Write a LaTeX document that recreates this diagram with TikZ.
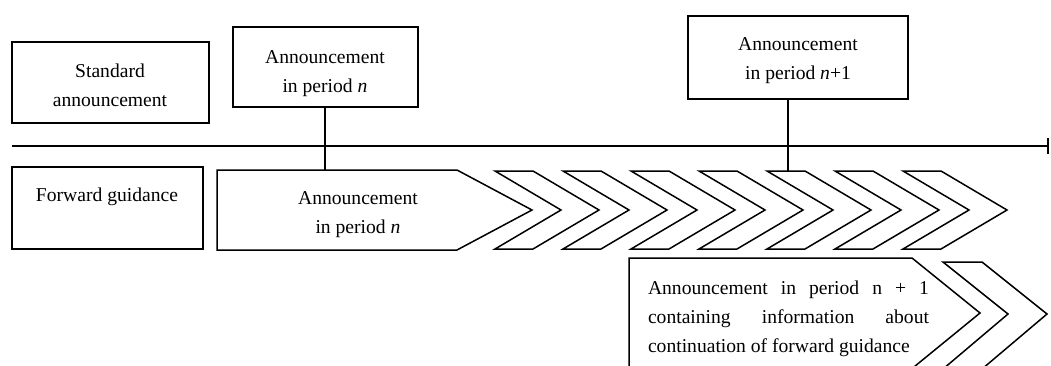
\documentclass[tikz,border=0pt]{standalone}
\usepackage{fontspec}
\setmainfont{Liberation Serif}
\usetikzlibrary{arrows.meta}
\newcommand\figfont{\fontsize{19.6pt}{29pt}\selectfont}
\begin{document}
\begin{tikzpicture}[x=1pt,y=-1pt,line width=1.5pt,line join=miter,
  box/.style={draw,rectangle,inner sep=0pt},
  lbl/.style={align=center,font=\figfont,inner sep=0pt},
  chev/.style={draw}]
\useasboundingbox (0,0) rectangle (1051,365);
\clip (0,0) rectangle (1051,365);
% timeline
\coordinate (tl0) at (12,146);
\coordinate (tl1) at (1049,146);
\draw[-{Bar[width=16pt,line width=2pt]}] (tl0) -- (tl1);
% boxes
\node[box,minimum width=197pt,minimum height=81pt] (std) at (110.5,82.5) {};
\node[lbl] (stdt) at (110,85.5) {Standard\\announcement};
\node[box,minimum width=191pt,minimum height=82pt] (fg) at (107.5,208) {};
\node[lbl] (fgt) at (107,197) {Forward guidance};
\node[box,minimum width=185pt,minimum height=80pt] (bn) at (325.5,67) {};
\node[lbl] (bnt) at (325,74) {Announcement\\in period \textit{n}};
\node[box,minimum width=220pt,minimum height=83pt] (bn1) at (798,57.5) {};
\node[lbl] (bn1t) at (798,60.5) {Announcement\\in period \textit{n}+1};
% big arrow
\draw (217,170) -- (457,170) -- (532,210) -- (457,250) -- (217,250) -- cycle;
\node[lbl] (bigt) at (358,215) {Announcement\\in period \textit{n}};
% chevrons
\foreach \i in {0,...,6}{
  \pgfmathsetmacro\xo{495+68*\i}
  \draw[chev] (\xo,171) -- (\xo+38,171) -- (\xo+104,210) -- (\xo+38,249) -- (\xo,249) -- (\xo+66,210) -- cycle;
}
% connectors
\coordinate (bigtop) at (325,170);
\coordinate (chevtop) at (788,171);
\draw (bigtop |- bn.south) -- (bigtop);
\draw (chevtop |- bn1.south) -- (chevtop);
% bottom arrow
\draw (629,380) -- (629,258) -- (912,258) -- (980,313) -- (898,380);
\draw (930,380) -- (1008,314) -- (943,262) -- (982,262) -- (1047,314) -- (969,380);
\node[font=\figfont,inner sep=0pt,text width=281pt,align=justify] (bott) at (788.5,319)
  {\hyphenpenalty=10000 \tolerance=10000 Announcement in period n~+~1\linebreak containing information about\linebreak continuation of forward guidance\par};
\end{tikzpicture}
\end{document}
